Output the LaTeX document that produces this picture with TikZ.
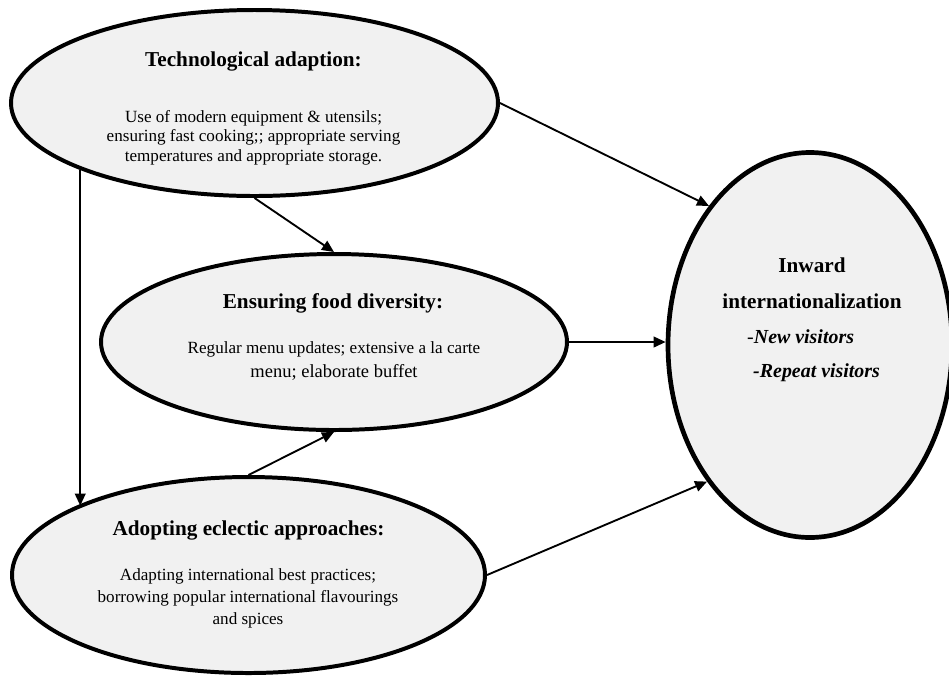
\documentclass[tikz,border=0pt]{standalone}
\usepackage{fontspec}
\setmainfont{Liberation Serif}
\definecolor{ovalgray}{RGB}{241,241,241}
\usetikzlibrary{arrows.meta, shapes.geometric}

\begin{document}
\begin{tikzpicture}[
  oval/.style={ellipse, draw, fill=ovalgray, line width=3.4pt, inner sep=0pt},
  head/.style={font=\fontsize{18.1}{31}\selectfont\bfseries, inner sep=0pt, anchor=base, align=center},
  body/.style={font=\fontsize{14.6}{#1}\selectfont, inner sep=0pt, anchor=north, align=center},
  vis/.style={font=\fontsize{17}{20}\selectfont\bfseries\itshape, inner sep=0pt, anchor=base west},
  arrow/.style={-{Triangle[length=0.36cm, width=0.32cm]}, line width=1.6pt},
]
  \useasboundingbox (0,0) rectangle (28.47,-20.25);

  % the three approaches
  \node[oval, minimum width=14.61cm, minimum height=5.58cm] (tech) at (7.635,-3.09) {};
  \node[head] (techhead) at (7.605,-2.0) {Technological adaption:};
  \node[body=16.6] (techtxt) at (7.605,-3.30) {Use of modern equipment \& utensils;\\
    ensuring fast cooking;; appropriate serving\\temperatures and appropriate storage.};

  \node[oval, minimum width=13.98cm, minimum height=5.28cm] (food) at (10.02,-10.26) {};
  \node[head] (foodhead) at (9.99,-9.24) {Ensuring food diversity:};
  \node[body=20.5] (foodtxt) at (10.02,-10.24) {Regular menu updates; extensive a la carte\\
    {\fontsize{15.8}{20.5}\selectfont menu; elaborate buffet}};

  \node[oval, minimum width=14.19cm, minimum height=5.88cm] (eclectic) at (7.455,-17.25) {};
  \node[head] (eclhead) at (7.455,-16.05) {Adopting eclectic approaches:};
  \node[body=18.8] (ecltxt) at (7.44,-17.05) {Adapting international best practices;\\
    borrowing popular international flavourings\\and spices};

  % outcome
  \node[oval, line width=4pt, minimum width=8.52cm, minimum height=11.55cm] (inward) at (24.3,-10.35) {};
  \node[head, anchor=north] (inwardhead) at (24.36,-7.716) {Inward\\internationalization};
  \node[vis] (newvis) at (22.41,-10.29) {{\mdseries-}New visitors};
  \node[vis] (repvis) at (22.59,-11.31) {-Repeat visitors};

  \draw[arrow] (tech.east) -- (inward.126);
  \draw[arrow] (tech.south) -- (food.north);
  \draw[arrow] (tech.201) -- (tech.201 |- eclectic.158);
  \draw[arrow] (food.east) -- (food.east -| inward.west);
  \draw[arrow] (eclectic.north) -- (food.south);
  \draw[arrow] (eclectic.east) -- (inward.233.5);
\end{tikzpicture}
\end{document}
